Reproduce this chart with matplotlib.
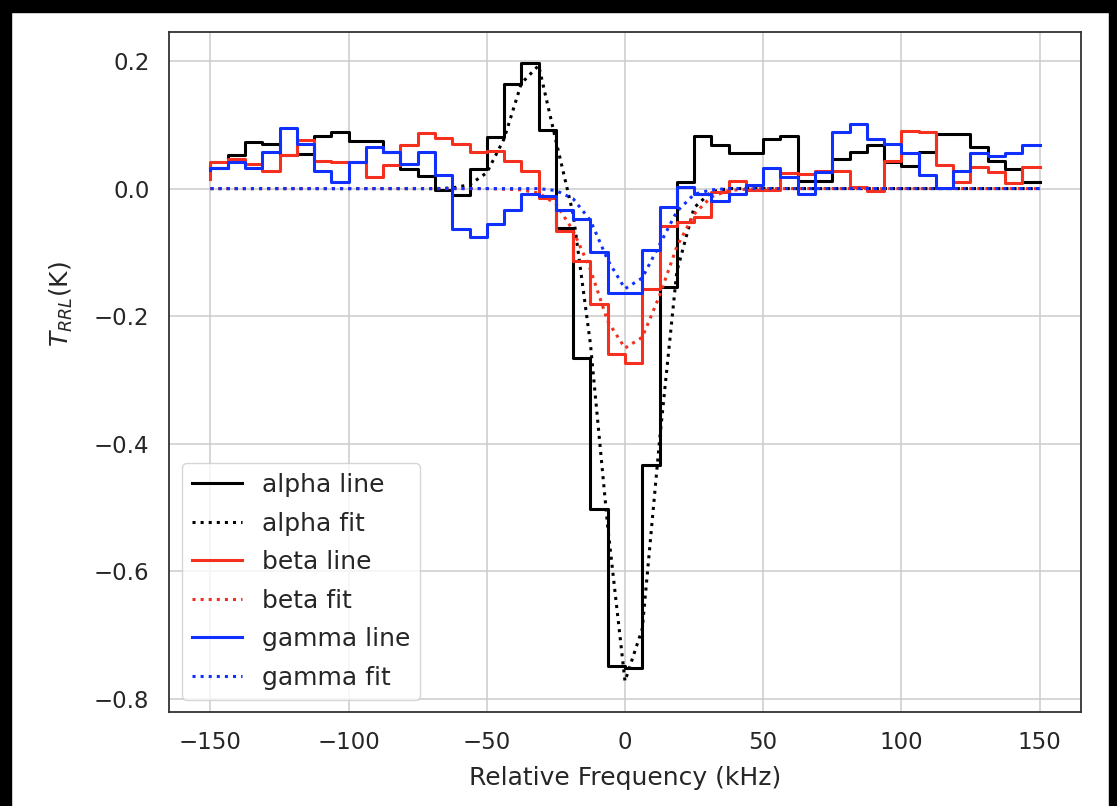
import numpy as np
import matplotlib
matplotlib.use("Agg")
import matplotlib.pyplot as plt
from matplotlib.patches import Rectangle

# channel centres (kHz)
freq = np.linspace(-150, 150, 49)

alpha_line = [0.033, 0.033, 0.053, 0.073, 0.070, 0.053, 0.054, 0.082, 0.088, 0.074,
              0.074, 0.057, 0.031, 0.019, -0.002, -0.010, 0.031, 0.081, 0.164, 0.197,
              0.092, -0.062, -0.265, -0.503, -0.749, -0.752, -0.434, -0.155, 0.010, 0.083,
              0.068, 0.055, 0.055, 0.078, 0.083, 0.012, 0.012, 0.046, 0.057, 0.068,
              0.041, 0.036, 0.057, 0.085, 0.085, 0.065, 0.044, 0.031, 0.010]
alpha_fit = [0.0, 0.0, 0.0, 0.0, 0.0, 0.0, 0.0, 0.0, 0.0, 0.0,
             0.0, 0.0, 0.0, 0.0, 0.001, 0.006, 0.025, 0.078, 0.165, 0.193,
             0.075, -0.040, -0.244, -0.530, -0.772, -0.690, -0.395, -0.130, -0.030, -0.005,
             0.0, 0.0, 0.0, 0.0, 0.0, 0.0, 0.0, 0.0, 0.0, 0.0,
             0.0, 0.0, 0.0, 0.0, 0.0, 0.0, 0.0, 0.0, 0.0]

beta_line = [0.015, 0.041, 0.046, 0.039, 0.027, 0.053, 0.076, 0.044, 0.041, 0.041,
             0.018, 0.037, 0.069, 0.087, 0.080, 0.070, 0.057, 0.059, 0.044, 0.028,
             -0.015, -0.067, -0.113, -0.181, -0.259, -0.273, -0.158, -0.058, -0.053, -0.045,
             -0.006, 0.012, -0.002, -0.002, 0.025, 0.023, 0.028, 0.028, 0.002, -0.003,
             0.044, 0.091, 0.088, 0.037, 0.010, 0.034, 0.026, 0.009, 0.034]
beta_fit = [0.0, 0.0, 0.0, 0.0, 0.0, 0.0, 0.0, 0.0, 0.0, 0.0,
            0.0, 0.0, 0.0, 0.0, 0.0, 0.0, 0.0, -0.001, -0.002, -0.007,
            -0.024, -0.066, -0.127, -0.208, -0.250, -0.233, -0.168, -0.091, -0.040, -0.013,
            -0.003, -0.001, 0.0, 0.0, 0.0, 0.0, 0.0, 0.0, 0.0, 0.0,
            0.0, 0.0, 0.0, 0.0, 0.0, 0.0, 0.0, 0.0, 0.0]

gamma_line = [0.029, 0.033, 0.041, 0.033, 0.057, 0.095, 0.070, 0.028, 0.010, 0.041,
              0.065, 0.057, 0.039, 0.057, 0.021, -0.063, -0.076, -0.055, -0.034, -0.009,
              -0.011, -0.034, -0.048, -0.100, -0.163, -0.163, -0.096, -0.029, 0.002, -0.008,
              -0.019, -0.008, 0.005, 0.033, 0.018, -0.008, 0.026, 0.088, 0.102, 0.077,
              0.070, 0.056, 0.022, 0.001, 0.028, 0.056, 0.051, 0.055, 0.068]
gamma_fit = [0.0, 0.0, 0.0, 0.0, 0.0, 0.0, 0.0, 0.0, 0.0, 0.0,
             0.0, 0.0, 0.0, 0.0, 0.0, 0.0, 0.0, 0.0, 0.0, 0.0,
             -0.003, -0.016, -0.050, -0.112, -0.157, -0.140, -0.088, -0.036, -0.009, -0.002,
             0.0, 0.0, 0.0, 0.0, 0.0, 0.0, 0.0, 0.0, 0.0, 0.0,
             0.0, 0.0, 0.0, 0.0, 0.0, 0.0, 0.0, 0.0, 0.0]

RED = '#f5301e'
BLUE = '#1030ff'
TXT = '#262626'

plt.rcParams['font.family'] = 'DejaVu Sans'
plt.rcParams['text.color'] = TXT
plt.rcParams['axes.labelcolor'] = TXT

fig = plt.figure(figsize=(11.17, 8.06), dpi=100)
ax = fig.add_axes([169/1117, 1 - 712/806, 912/1117, 680/806])

ax.step(freq, alpha_line, where='pre', color='black', lw=2.2, label='alpha line')
ax.plot(freq, alpha_fit, ':', color='black', lw=2.2, label='alpha fit')
ax.step(freq, beta_line, where='pre', color=RED, lw=2.2, label='beta line')
ax.plot(freq, beta_fit, ':', color=RED, lw=2.2, label='beta fit')
ax.step(freq, gamma_line, where='pre', color=BLUE, lw=2.2, label='gamma line')
ax.plot(freq, gamma_fit, ':', color=BLUE, lw=2.2, label='gamma fit')

ax.set_xticks([-150, -100, -50, 0, 50, 100, 150])
ax.set_yticks([-0.8, -0.6, -0.4, -0.2, 0.0, 0.2])
ax.grid(True, color='#cccccc', lw=1.1)
ax.set_axisbelow(True)
for s in ax.spines.values():
    s.set_color('#333333')
    s.set_linewidth(1.3)
ax.tick_params(length=0, pad=14, labelsize=16.5, colors=TXT)

ax.set_xlabel('Relative Frequency (kHz)', fontsize=18, labelpad=8)
ax.set_ylabel('$T_{RRL}$(K)', fontsize=18)
ax.yaxis.set_label_coords(-0.103, 0.6)

ax.legend(loc='lower left', fontsize=18, framealpha=0.8, edgecolor='#cccccc',
          labelspacing=0.58)

# dark frame along the top and sides
fig.add_artist(Rectangle((0, 1 - 12/806), 1, 12/806, transform=fig.transFigure,
                         color='black', zorder=10))
fig.add_artist(Rectangle((0, 0), 11/1117, 1, transform=fig.transFigure,
                         color='black', zorder=10))
fig.add_artist(Rectangle((1 - 8/1117, 0), 8/1117, 1, transform=fig.transFigure,
                         color='black', zorder=10))

fig.savefig('out.png', dpi=100)
